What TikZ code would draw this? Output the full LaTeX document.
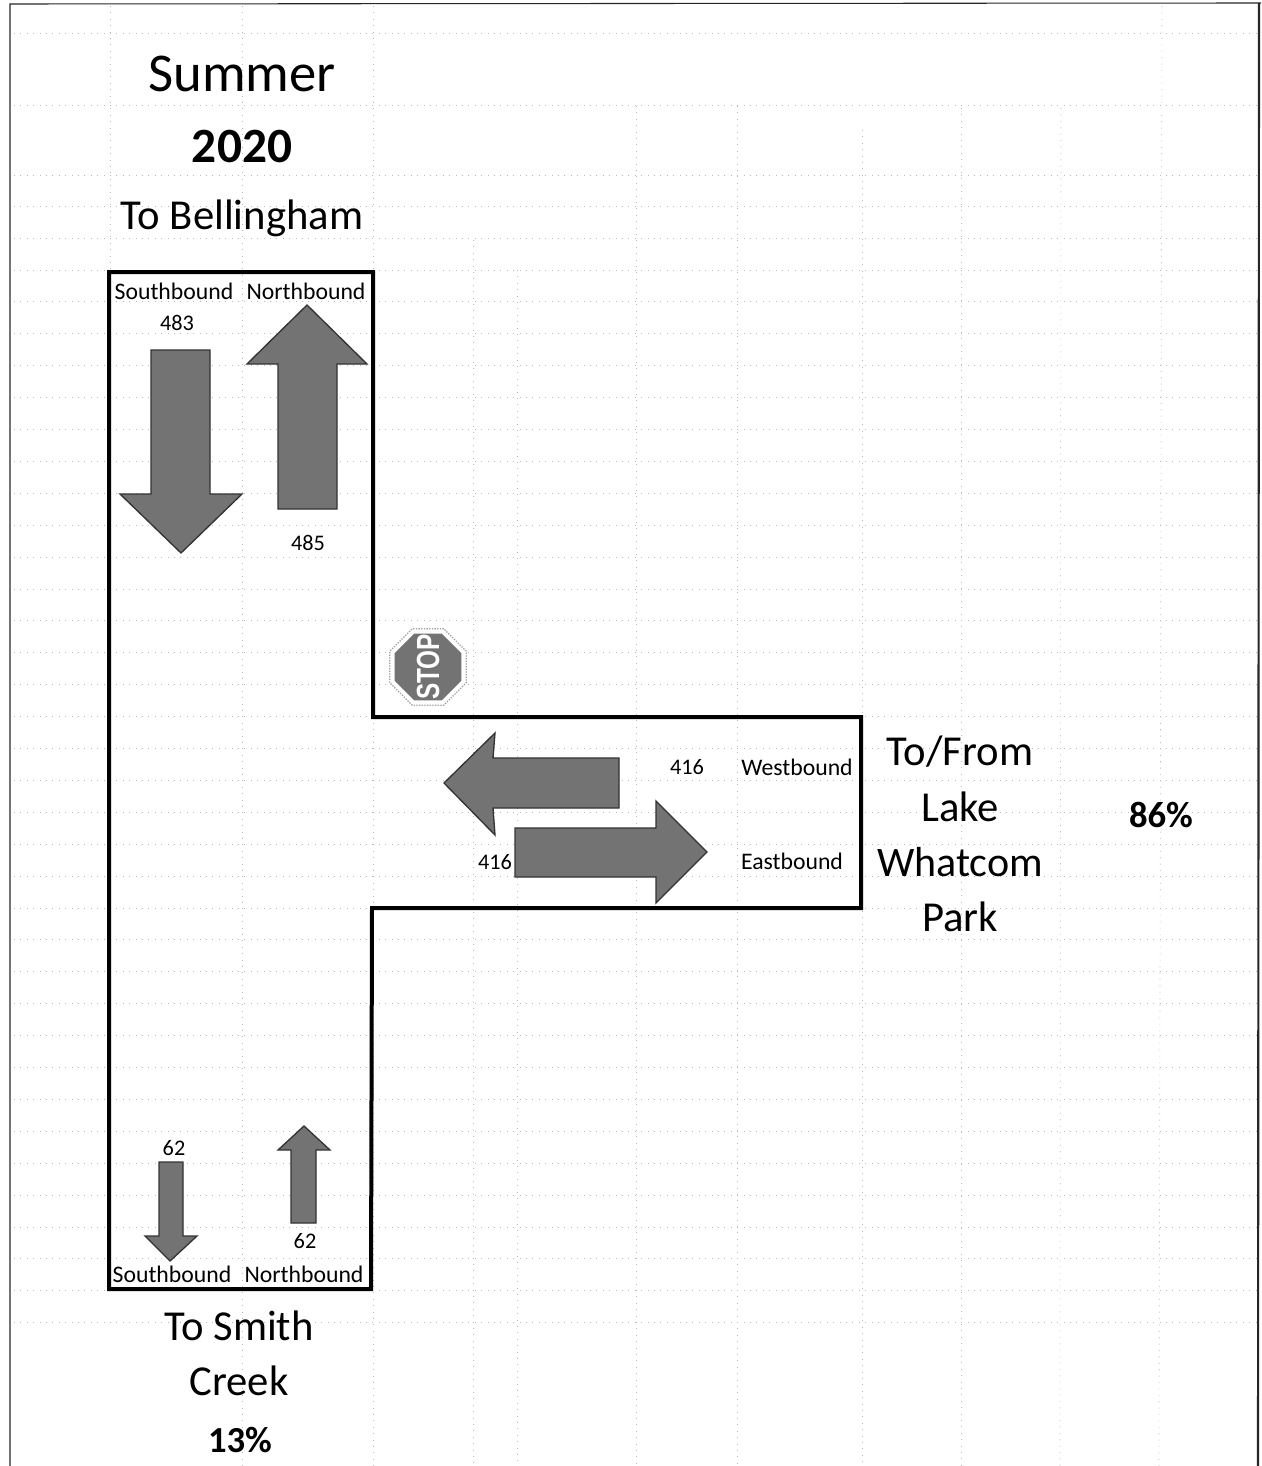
\documentclass[tikz,border=0pt]{standalone}
\usepackage{fontspec}
\usepackage{graphicx}
\setmainfont{Carlito}
\newfontfamily\signfont{Liberation Sans}
\usetikzlibrary{shapes.geometric}
\tikzset{
  gridline/.style={gray!55,line width=.45pt,dash pattern=on .8pt off 4pt},
  road/.style={draw=black,line width=3pt,miter limit=10},
  flow/.style={draw=black!80,line width=1pt,fill=black!55,line join=miter},
  small/.style={font=\fontsize{17.8}{20}\selectfont,inner sep=0pt},
  num/.style={font=\fontsize{16.7}{20}\selectfont,inner sep=0pt},
  big/.style={font=\fontsize{32}{36}\selectfont,inner sep=0pt},
  pct/.style={font=\bfseries\fontsize{27.5}{32}\selectfont,inner sep=0pt},
}
\begin{document}
\begin{tikzpicture}[x=.75pt,y=-.75pt]
\useasboundingbox (0,0) rectangle (1261,1466);
% faint sheet grid
\foreach \yy in {33,105,175} \draw[gridline] (14,\yy) -- (1257,\yy);
\foreach \k in {0,...,35} \draw[gridline] (14,206+\k*31.9) -- (1257,206+\k*31.9);
\draw[gridline] (110,6) -- (110,272);
\foreach \xx in {242,373} \draw[gridline] (\xx,6) -- (\xx,1466);
\draw[gridline] (473,240) -- (473,1466);
\draw[gridline] (517,270) -- (517,1466);
\draw[gridline] (636,106) -- (636,1466);
\draw[gridline] (737,106) -- (737,1466);
\draw[gridline] (862,130) -- (862,1466);
\draw[gridline] (961,108) -- (961,1466);
\draw[gridline] (1061,108) -- (1060,1466);
\draw[gridline] (1162,6) -- (1159,1466);
% sheet frame
\draw[black!85,line width=.8pt] (10,1466) -- (10,4) -- (1261,3);
\draw[black!85,line width=1.6pt] (1259,3) -- (1258,1466);
% road outline
\draw[road] (109,272) -- (373,272) -- (373,717) -- (861,717) -- (861,908) -- (372,908) -- (371,1289) -- (109,1289) -- cycle;
% flow arrows
\draw[flow] (151,350) -- (210,350) -- (210,494) -- (242,494) -- (181,553) -- (120,494) -- (151,494) -- cycle;
\draw[flow] (307,305) -- (367,364) -- (337,364) -- (337,509) -- (278,509) -- (278,364) -- (247,364) -- cycle;
\draw[flow] (444,783) -- (495,733) -- (493,758) -- (619,758) -- (619,808) -- (493,808) -- (495,835) -- cycle;
\draw[flow] (515,828) -- (656,828) -- (656,801) -- (707,852) -- (656,903) -- (656,877) -- (515,877) -- cycle;
\draw[flow] (159,1162) -- (183,1162) -- (183,1236) -- (197,1236) -- (170,1261) -- (145,1236) -- (159,1236) -- cycle;
\draw[flow] (304,1126) -- (330,1150) -- (316,1150) -- (316,1223) -- (291,1223) -- (291,1150) -- (278,1150) -- cycle;
% stop sign
\node[regular polygon,regular polygon sides=8,minimum size=62pt,draw=gray!75,densely dotted,line width=1pt,fill=white,inner sep=0pt] (signback) at (428,667) {};
\node[regular polygon,regular polygon sides=8,minimum size=54pt,fill=black!55,inner sep=0pt] (sign) at (428,667) {};
\node[rotate=90,text=white,inner sep=0pt,font=\signfont\bfseries\fontsize{24}{26}\selectfont] (stop) at (428,667) {\scalebox{.76}[1]{STOP}};
% labels
\node[inner sep=0pt,font=\fontsize{41}{44}\selectfont] (summer) at (242,74) {Summer};
\node[inner sep=0pt,font=\bfseries\fontsize{37}{40}\selectfont] (year) at (242,146) {2020};
\node[big] (bham) at (242,218) {To Bellingham};
\node[small] (sb1) at (174,291) {Southbound};
\node[small] (nb1) at (306,291) {Northbound};
\node[num] (n483) at (177,323) {483};
\node[num] (n485) at (308,543) {485};
\node[num] (n416w) at (687,767) {416};
\node[small] (wb) at (797,767) {Westbound};
\node[num] (n416e) at (495,862) {416};
\node[small] (eb) at (792,861) {Eastbound};
\node[big] (tofrom) at (960,752) {To/From};
\node[big] (lake) at (960,807) {Lake};
\node[big,font=\fontsize{31.5}{36}\selectfont] (whatcom) at (960,862) {Whatcom};
\node[big] (park) at (960,917) {Park};
\node[pct] (p86) at (1161,815) {86\%};
\node[num] (n62s) at (174,1148) {62};
\node[num] (n62n) at (305,1241) {62};
\node[small] (sb2) at (172,1274) {Southbound};
\node[small] (nb2) at (304,1274) {Northbound};
\node[big] (smith) at (239,1326) {To Smith};
\node[big] (creek) at (239,1381) {Creek};
\node[pct] (p13) at (240,1440) {13\%};
\end{tikzpicture}
\end{document}
